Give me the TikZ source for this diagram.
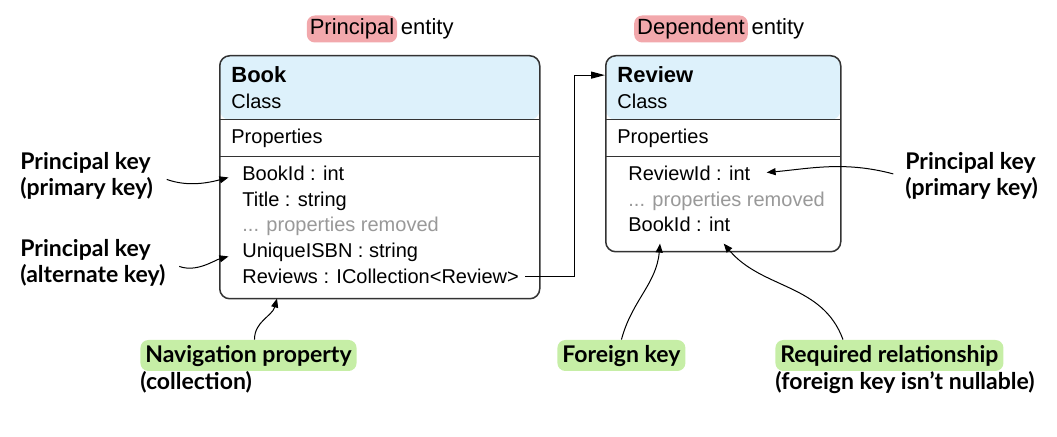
\documentclass[tikz,border=0pt]{standalone}
\usepackage{fontspec}
\setmainfont{Liberation Sans}
\newfontfamily\calloutfont{Lato}
\usetikzlibrary{arrows.meta,calc,positioning}

\definecolor{headerblue}{HTML}{DDF1FB}
\definecolor{boxline}{HTML}{333333}
\definecolor{hlpink}{HTML}{F2A8AC}
\definecolor{hlgreen}{HTML}{C6EEA6}
\definecolor{removedgray}{HTML}{999999}

\tikzset{
  entitybox/.style={draw=boxline, line width=0.75pt, rounded corners=5pt, fill=white,
    anchor=north west, inner sep=0pt,
    path picture={
      \fill[headerblue] (path picture bounding box.north west) rectangle ([yshift=-32pt]path picture bounding box.north east);
      \draw[boxline, line width=0.6pt] ([yshift=-32pt]path picture bounding box.north west) -- ([yshift=-32pt]path picture bounding box.north east);
      \draw[boxline, line width=0.6pt] ([yshift=-50.5pt]path picture bounding box.north west) -- ([yshift=-50.5pt]path picture bounding box.north east);
    }},
  classname/.style={anchor=base west, inner sep=0pt, font=\fontsize{11}{13}\selectfont\bfseries},
  member/.style={anchor=base west, inner sep=0pt, font=\fontsize{10}{12}\selectfont},
  removed/.style={member, text=removedgray},
  entityname/.style={inner xsep=1.5pt, inner ysep=0pt, text height=8.5pt, text depth=2.5pt,
    minimum height=13.5pt, font=\fontsize{11}{13}\selectfont},
  callout/.style={inner sep=2pt, align=left, font=\calloutfont\bfseries\fontsize{11.5}{13}\selectfont},
  tag/.style={callout, anchor=base west, fill=hlgreen, rounded corners=4pt,
    inner xsep=2.5pt, inner ysep=2pt, text height=9.5pt, text depth=2pt},
  pointer/.style={line width=0.5pt, -{Triangle[length=4.5pt,width=3.5pt]}},
  link/.style={line width=0.6pt, -{Triangle[length=7pt,width=3.5pt]}}
}

\begin{document}
\begin{tikzpicture}[x=0.5pt, y=-0.5pt]
\useasboundingbox (0,0) rectangle (1057,437);

% entity headings
\node[entityname, fill=hlpink, rounded corners=4pt] (principal) at (352,29) {Principal};
\node[entityname, anchor=base west, inner xsep=0pt] (principalent) at ([xshift=1.5pt]principal.base east) {entity};
\node[entityname, fill=hlpink, rounded corners=4pt] (dependent) at (691,29) {Dependent};
\node[entityname, anchor=base west, inner xsep=0pt] (dependentent) at ([xshift=1.5pt]dependent.base east) {entity};

% Book entity
\node[entitybox, minimum width=160pt, minimum height=121.5pt] (book) at (219,55) {};
\node[classname] (booktitle) at (231,83) {Book};
\node[member] (bookclass) at (231,109) {Class};
\node[member] (bookprops) at (231,144) {Properties};
\node[member] (bookid) at (242,181) {BookId : int};
\node[member] (title) at (242,207) {Title : string};
\node[removed] (bookmore) at (242,232) {... properties removed};
\node[member] (isbn) at (242,258) {UniqueISBN : string};
\node[member] (reviews) at (242,284) {Reviews : ICollection<Review>};

% Review entity
\node[entitybox, minimum width=117.5pt, minimum height=98pt] (review) at (605,55) {};
\node[classname] (reviewtitle) at (617,83) {Review};
\node[member] (reviewclass) at (617,109) {Class};
\node[member] (reviewprops) at (617,144) {Properties};
\node[member] (reviewid) at (628,181) {ReviewId : int};
\node[removed] (reviewmore) at (628,207) {... properties removed};
\node[member] (fkbookid) at (628,232) {BookId : int};

% collection -> dependent
\draw[link, shorten <=3pt] (reviews.east) -- ++(27.5pt,0) |- (reviewtitle.west -| review.west);

% callouts
\node[callout, anchor=west] (pkbook) at (16,176) {Principal key\\(primary key)};
\node[callout, anchor=west] (akbook) at (16,263) {Principal key\\(alternate key)};
\node[callout, anchor=west] (pkreview) at (901,176) {Principal key\\(primary key)};
\node[tag] (nav) at (140,363) {Navigation property};
\node[callout, anchor=base west, inner sep=0pt] (navsub) at (140,390) {(collection)};
\node[tag] (fk) at (557,363) {Foreign key};
\node[tag] (req) at (775,363) {Required relationship};
\node[callout, anchor=base west, inner sep=0pt] (reqsub) at (775,390) {(foreign key isn’t nullable)};

\draw[pointer, shorten <=5pt, shorten >=7pt] (pkbook.east) to[out=-20,in=195] (bookid.west);
\draw[pointer, shorten <=5pt, shorten >=7pt] (akbook.east) to[out=-20,in=195] (isbn.west);
\draw[pointer, shorten <=4pt, shorten >=8pt] (pkreview.west) to[out=165,in=5] (reviewid.east);
\draw[pointer] ([xshift=3pt]nav.north) to[out=90,in=-105] ($(book.south west)+(58,-1)$);
\draw[pointer] (fk.north) to[out=75,in=-95] ($(fkbookid.south west)+(32,11)$);
\draw[pointer] ($(req.north west)+(68,0)$) to[out=110,in=-50] ($(fkbookid.south east)+(-7,11)$);
\end{tikzpicture}
\end{document}
